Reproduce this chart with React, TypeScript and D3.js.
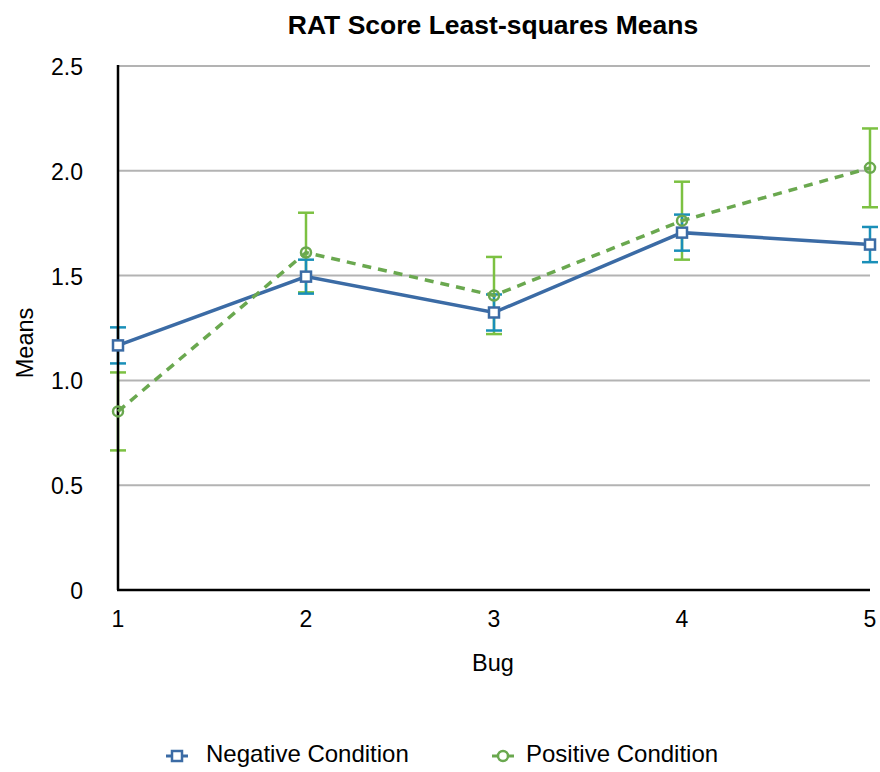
import React from 'react';
import * as d3 from 'd3';

// Bug numbers on the x axis
const bugs = [1, 2, 3, 4, 5];

// Negative condition: least-squares means and error half-widths
const negativeMeans = [1.167, 1.495, 1.324, 1.705, 1.648];
const negativeErr = [0.086, 0.081, 0.086, 0.086, 0.084];

// Positive condition
const positiveMeans = [0.852, 1.61, 1.405, 1.762, 2.014];
const positiveErr = [0.186, 0.19, 0.184, 0.186, 0.188];

const yTicks = [0, 0.5, 1.0, 1.5, 2.0, 2.5];

const NEG_LINE = '#3b6ba5';
const NEG_ERR = '#1a8fb8';
const POS_LINE = '#6aa84f';
const POS_ERR = '#7cc142';
const FONT = '"Liberation Sans", Arial, Helvetica, sans-serif';

function App() {
  const width = 880;
  const height = 772;
  const margin = { top: 66, right: 8, bottom: 182, left: 118 };
  const innerWidth = width - margin.left - margin.right;
  const innerHeight = height - margin.top - margin.bottom;

  const xScale = d3.scaleLinear().domain([1, 5]).range([0, innerWidth - 2]);
  const yScale = d3.scaleLinear().domain([0, 2.5]).range([innerHeight, 0]);

  const line = d3.line<number>()
    .x((_, i) => xScale(bugs[i]))
    .y(d => yScale(d));

  const errorBars = (means: number[], errs: number[], color: string) =>
    means.map((m, i) => {
      const x = xScale(bugs[i]);
      const y1 = yScale(m + errs[i]);
      const y2 = yScale(m - errs[i]);
      return (
        <g key={i} stroke={color} strokeWidth={2.5}>
          <line x1={x} x2={x} y1={y1} y2={y2} />
          <line x1={x - 8} x2={x + 8} y1={y1} y2={y1} />
          <line x1={x - 8} x2={x + 8} y1={y2} y2={y2} />
        </g>
      );
    });

  return (
    <svg width={width} height={height} style={{ position: 'absolute', left: 0, top: 0 }} fontFamily={FONT}>
      <rect width={width} height={height} fill="#fff" />
      <text x={493} y={34} textAnchor="middle" fontSize={26.5} fontWeight="bold" fill="#000">
        RAT Score Least-squares Means
      </text>
      <g transform={`translate(${margin.left},${margin.top})`}>
        {/* grid lines */}
        {yTicks.filter(t => t > 0).map(t => (
          <line key={t} x1={0} x2={innerWidth - 2} y1={yScale(t)} y2={yScale(t)} stroke="#b3b3b3" strokeWidth={2} />
        ))}
        {/* y tick labels */}
        {yTicks.map(t => (
          <text key={t} x={-35} y={yScale(t) + 9} textAnchor="end" fontSize={23} fill="#000">
            {t === 0 ? '0' : t.toFixed(1)}
          </text>
        ))}
        {/* x tick labels */}
        {bugs.map(b => (
          <text key={b} x={xScale(b)} y={innerHeight + 37} textAnchor="middle" fontSize={23} fill="#000">
            {b}
          </text>
        ))}
        {/* error bars */}
        {errorBars(positiveMeans, positiveErr, POS_ERR)}
        {errorBars(negativeMeans, negativeErr, NEG_ERR)}
        {/* axes */}
        <line x1={0} x2={0} y1={-1} y2={innerHeight} stroke="#000" strokeWidth={2.5} />
        <line x1={-1} x2={innerWidth - 2} y1={innerHeight} y2={innerHeight} stroke="#000" strokeWidth={2.5} />
        {/* series lines */}
        <path d={line(negativeMeans) || ''} fill="none" stroke={NEG_LINE} strokeWidth={3.5} />
        <path d={line(positiveMeans) || ''} fill="none" stroke={POS_LINE} strokeWidth={3.5} strokeDasharray="9,7" />
        {/* markers */}
        {negativeMeans.map((m, i) => (
          <rect key={i} x={xScale(bugs[i]) - 5} y={yScale(m) - 5} width={10} height={10}
            fill="#fff" stroke={NEG_LINE} strokeWidth={2.5} />
        ))}
        {positiveMeans.map((m, i) => (
          <circle key={i} cx={xScale(bugs[i])} cy={yScale(m)} r={5}
            fill="none" stroke={POS_LINE} strokeWidth={2.5} />
        ))}
      </g>
      <text x={493} y={671} textAnchor="middle" fontSize={23.5} fill="#000">Bug</text>
      <text transform="translate(33,343) rotate(-90)" textAnchor="middle" fontSize={23.5} fill="#000">Means</text>
      {/* legend */}
      <g>
        <line x1={166} x2={188} y1={756} y2={756} stroke={NEG_LINE} strokeWidth={3} />
        <rect x={172} y={751} width={10} height={10} fill="#fff" stroke={NEG_LINE} strokeWidth={2.5} />
        <text x={206} y={762} fontSize={24} fill="#000">Negative Condition</text>
        <line x1={492} x2={514} y1={756} y2={756} stroke={POS_LINE} strokeWidth={3} />
        <circle cx={503} cy={756} r={5} fill="#fff" stroke={POS_LINE} strokeWidth={2.5} />
        <text x={526} y={762} fontSize={24} fill="#000">Positive Condition</text>
      </g>
    </svg>
  );
}

export default App;
